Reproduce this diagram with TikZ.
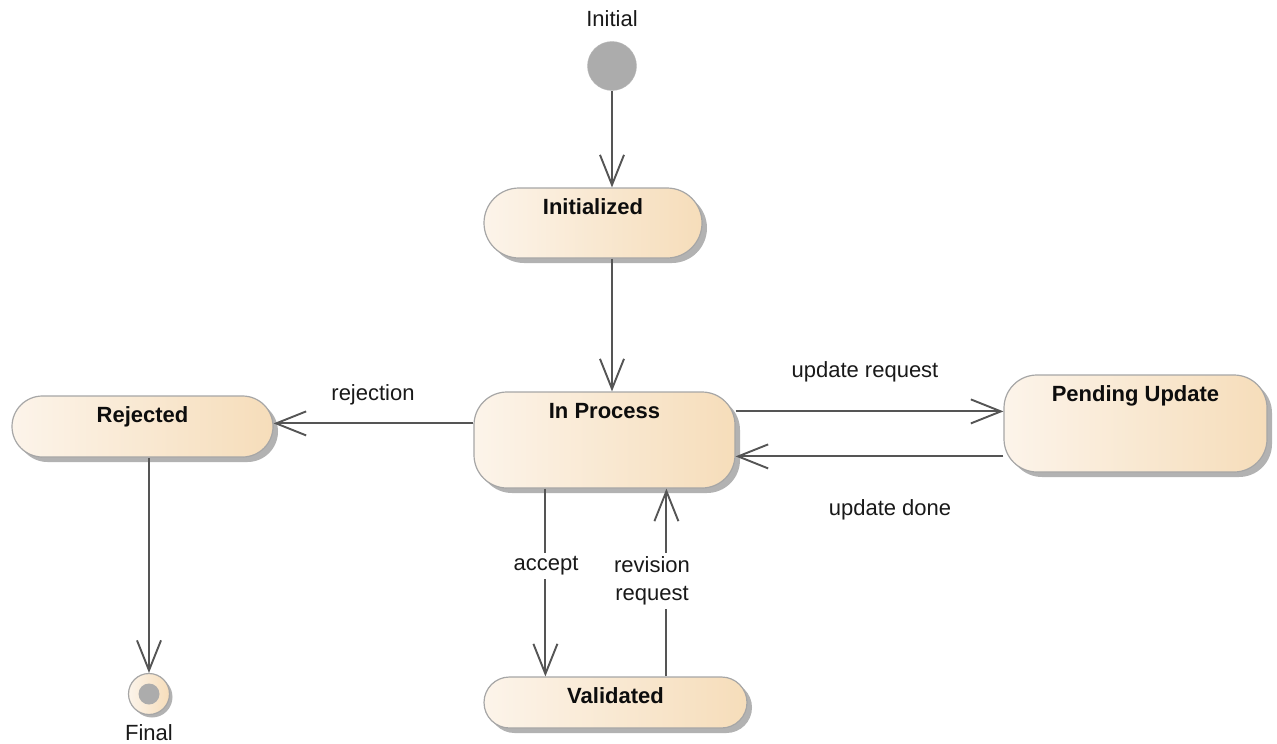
\documentclass[tikz,border=0pt]{standalone}
\usepackage{fontspec}
\setmainfont{Liberation Sans}
\usetikzlibrary{arrows.meta,shadows,calc}
\definecolor{peachL}{HTML}{FCF4EA}
\definecolor{peachR}{HTML}{F6DDBA}
\definecolor{bordc}{HTML}{A6A6A6}
\definecolor{linec}{HTML}{555555}
\definecolor{dotc}{HTML}{ACACAC}
\newcommand\stnode[7]{%
  \node[stbase, minimum width=#4pt, minimum height=#5pt, rounded corners=#6pt] (#1) at (#2,#3) {};
  \node[sttext, anchor=base] (#1-t) at ([yshift=-27.5pt]#1.north) {#7};
}
\begin{document}
\begin{tikzpicture}[x=1pt,y=-1pt,
  stbase/.style={draw=bordc, line width=1.2pt, left color=peachL, right color=peachR,
    drop shadow={shadow xshift=5pt,shadow yshift=-5pt,fill=black,opacity=0.3}, inner sep=0pt},
  sttext/.style={font=\fontsize{22}{26}\selectfont\bfseries, text=black!95, inner sep=0pt},
  lbl/.style={font=\fontsize{22}{28}\selectfont, text=black!90},
  arr/.style={draw=linec, line width=1.9pt, -{Straight Barb[length=30pt,width=24pt,line width=1.9pt]}},
]
\useasboundingbox (0,0) rectangle (1277,744);

% initial pseudo-state
\node[circle, fill=dotc, draw=dotc!85!white, minimum size=49pt, inner sep=0pt] (init) at (612,66) {};
\node[lbl, anchor=base, inner sep=0pt] (initlbl) at (612,27) {Initial};

% states
\stnode{initd}{593}{223}{218}{70}{35}{Initialized}
\stnode{proc}{604.5}{440}{261}{96}{33}{In Process}
\stnode{rej}{142.5}{426.5}{261}{61}{30.5}{Rejected}
\stnode{pend}{1135.5}{423.5}{263}{97}{33}{Pending Update}
\stnode{val}{615.5}{702.5}{263}{51}{25.5}{Validated}

% final state
\node[circle, draw=bordc, line width=1.2pt, left color=peachL, right color=peachR,
  drop shadow={shadow xshift=3pt,shadow yshift=-3pt,fill=black,opacity=0.3},
  minimum size=41pt, inner sep=0pt] (final) at (149,694) {};
\node[circle, fill=dotc, minimum size=21pt, inner sep=0pt] (finaldot) at (final) {};
\node[lbl, anchor=base, inner sep=0pt] (finallbl) at (149,740) {Final};

% transitions
\draw[arr] (init) -- (init |- initd.north);
\draw[arr] (init |- initd.south) -- (init |- proc.north);
\draw[arr] ([yshift=-32pt]proc.north west) -- ([yshift=-32pt]proc.north west -| rej.east);
\draw[arr] ([yshift=-20pt]proc.north east) -- ([yshift=-20pt]proc.north east -| pend.west);
\draw[arr] ([yshift=-82pt]pend.north west) -- ([yshift=-82pt]pend.north west -| proc.east);
\draw[arr] ([xshift=72pt]proc.south west) -- ([xshift=72pt]proc.south west |- val.north);
\draw[arr] ([xshift=183pt]val.north west) -- ([xshift=183pt]val.north west |- proc.south);
\draw[arr] (final |- rej.south) -- (final.north);

% labels
\node[lbl, anchor=base, inner sep=0pt] (lrej) at (373,400) {rejection};
\node[lbl, anchor=base, inner sep=0pt] (lupd) at (865,377) {update request};
\node[lbl, anchor=base, inner sep=0pt] (ldone) at (890,515) {update done};
\node[lbl, fill=white, inner sep=4pt] (lacc) at (546,566) {accept};
\node[lbl, fill=white, inner sep=4pt, align=center] (lrev) at (652,581) {revision\\request};
\end{tikzpicture}
\end{document}
